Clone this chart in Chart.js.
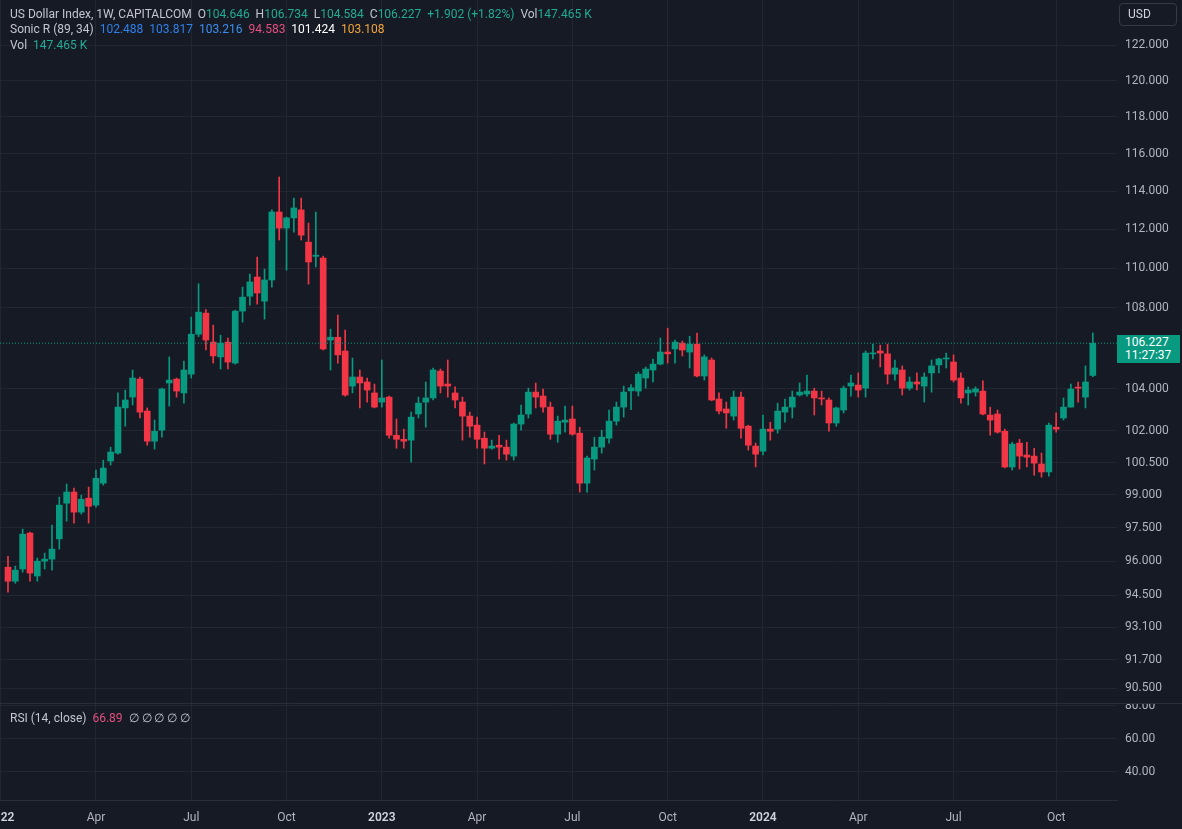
<!DOCTYPE html>
<html><head><meta charset="utf-8">
<script src="https://cdn.jsdelivr.net/npm/chart.js@4/dist/chart.umd.min.js"></script>
<style>
html,body{margin:0;padding:0;background:#161a25;}
#wrap{position:relative;width:1182px;height:829px;overflow:hidden;background:#161a25;font-family:Roboto,'Noto Sans',sans-serif;}
#c{position:absolute;left:0;top:0;}
.lg{position:absolute;left:10px;font-size:12px;color:#c3c6ce;white-space:pre;line-height:16px;}
.t{color:#22ab94}.b1{color:#2f80e8}.b2{color:#3b8ff0}.pk{color:#e2507e}.wh{color:#ffffff}.or{color:#f2a43a}.rd{color:#f23645}
#usd{position:absolute;left:1119px;top:3px;width:58px;height:23px;border:1px solid #363a45;border-radius:4px;color:#d1d4dc;font-size:12px;line-height:21px;box-sizing:border-box;padding-left:8px;}
#pl{position:absolute;left:1117px;width:63px;height:28px;background:#089981;color:#fff;font-size:12px;line-height:13px;box-sizing:border-box;padding:1px 0 0 8px;}
</style></head><body>
<div id="wrap">
<canvas id="c" width="1182" height="829"></canvas>
<div class="lg" style="top:6px">US Dollar Index, 1W, CAPITALCOM  O<span class="t">104.646</span>  H<span class="t">106.734</span>  L<span class="t">104.584</span>  C<span class="t">106.227</span>  <span class="t">+1.902 (+1.82%)</span>  Vol<span class="t">147.465 K</span></div>
<div class="lg" style="top:21px">Sonic R (89, 34)  <span class="b1">102.488</span>  <span class="b1">103.817</span>  <span class="b2">103.216</span>  <span class="pk">94.583</span>  <span class="wh">101.424</span>  <span class="or">103.108</span></div>
<div class="lg" style="top:37px">Vol  <span class="t">147.465 K</span></div>
<div class="lg" style="top:710px">RSI (14, close)  <span class="pk">66.89</span>  ∅ ∅ ∅ ∅ ∅</div>
<div id="usd">USD</div>
<div id="pl">106.227<br>11:27:37</div>
</div>
<script>
// weekly candles, index 0 = week of 10 Jan 2022
const opens = [95.73,95.11,95.65,97.26,95.34,96.00,96.09,97.00,98.62,99.13,98.21,98.85,98.53,99.54,100.57,100.94,103.08,103.60,104.47,102.93,101.50,102.02,104.28,104.47,103.80,104.71,106.67,107.72,106.28,105.55,106.28,105.25,107.82,108.57,109.54,108.32,109.39,112.90,112.06,112.59,113.01,111.33,110.60,110.51,106.38,106.52,105.84,104.13,104.57,104.33,103.80,103.36,103.60,101.78,101.59,101.55,102.79,103.36,103.56,104.86,104.23,103.80,103.36,102.69,102.26,101.64,101.17,101.31,101.22,100.80,102.31,102.79,103.84,103.65,103.12,101.83,102.40,102.55,101.88,99.54,100.66,101.22,101.64,102.45,103.12,103.90,103.89,104.52,104.91,105.20,105.79,105.94,106.23,105.79,106.18,104.62,105.40,103.51,103.03,102.69,103.60,102.21,101.27,101.03,102.07,102.07,102.88,103.12,103.70,103.75,103.89,103.56,103.46,102.36,102.98,104.13,104.18,104.03,105.70,105.84,105.70,104.71,104.91,104.03,104.33,104.13,104.77,105.16,105.45,105.30,104.52,103.80,103.84,103.89,102.74,102.79,101.97,100.29,101.41,100.85,100.80,100.43,100.06,102.16,102.60,103.12,104.08,103.60,104.646];
const highs = [96.22,95.78,97.44,97.30,96.14,96.36,97.62,98.90,99.50,99.31,98.99,99.36,100.15,100.61,101.22,103.80,103.94,104.91,104.57,103.08,102.50,104.03,105.55,104.52,105.35,107.52,109.20,107.90,107.12,106.62,106.48,107.87,109.03,109.69,110.56,109.94,113.01,114.75,112.64,113.63,113.63,112.32,112.90,110.61,106.92,107.62,106.87,105.50,104.91,104.52,104.23,105.40,103.65,102.55,102.07,102.88,103.60,104.33,105.01,104.96,105.40,104.09,103.60,102.88,102.64,101.93,101.55,101.78,101.55,102.36,103.22,104.03,104.28,103.99,103.36,102.69,103.17,103.17,102.16,100.80,101.69,102.02,102.98,103.36,104.13,104.20,104.81,105.06,105.45,106.48,106.97,106.38,106.33,106.57,106.72,105.65,105.50,103.80,103.36,103.89,103.84,102.26,101.41,102.74,102.40,103.31,103.51,103.89,104.28,104.67,104.03,103.89,103.56,103.12,104.13,104.67,104.77,105.84,106.18,106.13,106.18,105.40,105.11,104.57,104.77,104.77,105.40,105.50,105.74,105.65,104.77,104.09,104.09,104.38,103.12,102.98,102.07,101.45,101.59,101.45,101.17,100.94,102.36,102.84,103.56,104.23,104.33,105.11,106.734];
const lows = [94.63,95.02,95.51,95.11,95.11,95.65,95.60,96.54,97.80,97.71,98.12,97.71,98.44,99.45,100.38,100.89,102.21,103.22,102.60,101.31,101.13,101.69,103.17,103.60,103.31,104.52,106.55,105.89,105.25,104.96,104.96,105.20,107.27,108.12,108.17,107.42,109.03,111.44,109.89,111.85,111.44,109.18,110.05,105.89,104.91,105.25,103.65,103.80,103.08,103.36,103.08,103.12,101.64,101.17,101.17,100.52,102.60,102.16,103.46,103.80,103.60,103.08,101.55,101.69,101.17,100.43,101.12,100.66,100.61,100.61,102.02,102.60,103.08,102.88,101.59,101.45,101.93,101.78,99.13,99.13,100.15,100.94,101.41,102.26,102.64,103.00,103.65,104.03,104.33,105.16,105.25,105.25,105.60,105.01,104.57,104.42,103.42,102.79,102.11,102.50,101.64,101.08,100.29,100.85,101.55,101.88,102.40,102.60,103.65,103.65,102.74,103.22,101.97,102.21,102.84,103.65,103.60,103.60,105.45,105.06,104.23,104.42,103.70,103.94,103.94,103.36,103.84,104.77,105.01,104.33,103.31,103.22,103.65,102.75,101.78,101.88,100.25,100.15,100.20,100.29,99.91,99.82,99.87,101.93,102.50,103.12,103.36,103.08,104.584];
const closes = [95.11,95.60,97.21,95.47,96.00,96.09,96.54,98.53,99.13,98.21,98.80,98.48,99.77,100.24,100.99,103.12,103.46,104.52,102.88,101.50,101.97,103.99,104.42,103.89,104.91,106.67,107.77,106.38,105.60,106.23,105.30,107.82,108.52,109.29,108.73,109.39,112.90,112.06,112.59,113.11,111.69,110.31,110.66,105.94,106.52,105.65,103.70,104.57,104.28,103.94,103.12,103.56,101.78,101.59,101.50,102.64,103.31,103.56,104.91,104.13,104.13,103.46,102.69,102.21,101.59,101.17,101.27,101.22,100.89,102.31,102.74,103.84,103.60,103.12,101.83,102.45,102.50,101.83,99.54,100.71,101.22,101.69,102.45,103.12,103.84,104.05,104.71,104.96,105.20,105.79,105.70,106.28,105.89,106.18,104.62,105.55,103.46,102.93,102.84,103.60,102.11,101.31,100.89,102.07,101.97,102.93,103.12,103.60,103.84,103.89,103.56,103.51,102.36,103.08,104.03,104.28,103.94,105.74,105.74,105.74,104.71,105.01,104.03,104.33,104.23,104.57,105.11,105.45,105.50,104.42,103.56,103.94,103.99,102.79,102.50,101.93,100.29,101.36,100.80,100.75,100.47,100.06,102.26,102.07,103.12,103.99,104.03,104.33,106.227];

const xTickIdx = [-1, 12, 25, 38, 51, 64, 77, 90, 103, 116, 129, 143];
const xTickText = ['2022','Apr','Jul','Oct','2023','Apr','Jul','Oct','2024','Apr','Jul','Oct'];
const priceTicks = [90.5, 91.7, 93.1, 94.5, 96, 97.5, 99, 100.5, 102, 104, 108, 110, 112, 114, 116, 118, 120, 122];
const rsiTicks = [80, 60, 40];
const lastClose = 106.227;

const UP = '#089981', DOWN = '#f23645', GRID = '#222631', TXT = '#b2b5be', BG = '#161a25', SEP = '#2a2e39';
const X_MIN = -1.09, X_MAX = 151.3;
const Y_MAX = 124.58, Y_MIN = 89.88;

const isUp = i => closes[i] >= opens[i];
const colorFor = c => isUp(c.dataIndex) ? UP : DOWN;
const bodyData = opens.map((o, i) => ({x: i, y: [Math.min(o, closes[i]), Math.max(o, closes[i])]}));
const wickData = opens.map((o, i) => ({x: i, y: [lows[i], highs[i]]}));

const panePlugin = {
  id: 'panes',
  afterDraw(chart) {
    const c = chart.ctx, ys = chart.scales.y, ca = chart.chartArea;
    c.save();
    c.fillStyle = BG;
    c.fillRect(ca.right + 1, ys.bottom - 8, chart.width - ca.right, 8);
    c.strokeStyle = SEP; c.lineWidth = 1;
    c.beginPath(); c.moveTo(0, Math.round(ys.bottom) + 0.5); c.lineTo(chart.width, Math.round(ys.bottom) + 0.5); c.stroke();
    c.restore();
  }
};

const chart = new Chart(document.getElementById('c'), {
  type: 'bar',
  data: { datasets: [
    { type: 'line', data: [{x: X_MIN, y: lastClose}, {x: X_MAX, y: lastClose}], borderColor: UP, borderWidth: 1, borderDash: [1, 2], pointRadius: 0, yAxisID: 'y' },
    { data: bodyData, backgroundColor: colorFor, barThickness: 6, minBarLength: 1, grouped: false, yAxisID: 'y', borderWidth: 0 },
    { data: wickData, backgroundColor: colorFor, barThickness: 1, grouped: false, yAxisID: 'y', borderWidth: 0 }
  ]},
  options: {
    responsive: false, animation: false, maintainAspectRatio: false,
    layout: { padding: 0 },
    plugins: { legend: { display: false }, tooltip: { enabled: false } },
    scales: {
      x: {
        type: 'linear', min: X_MIN, max: X_MAX, offset: false,
        grid: { color: GRID, drawTicks: false, offset: false },
        border: { display: true, color: SEP },
        ticks: {
          padding: 11, autoSkip: false, maxRotation: 0,
          color: c => (xTickText[c.index] || '').length === 4 ? '#d1d4dc' : TXT,
          font: c => ({ family: 'Roboto', size: 12, weight: (xTickText[c.index] || '').length === 4 ? '600' : '400' }),
          callback: (v, i) => xTickText[i]
        },
        afterBuildTicks: s => { s.ticks = xTickIdx.map(v => ({ value: v })); },
        afterFit: s => { s.height = 29; s.paddingLeft = 0; s.paddingRight = 0; }
      },
      y: {
        type: 'logarithmic', position: 'right', stack: 'panes', stackWeight: 703,
        min: Y_MIN, max: Y_MAX,
        grid: { color: GRID, drawTicks: false },
        border: { display: false },
        ticks: { padding: 8, color: TXT, font: { family: 'Roboto', size: 12 }, callback: v => Number(v).toFixed(3) },
        afterBuildTicks: s => { s.ticks = priceTicks.map(v => ({ value: v })); },
        afterFit: s => { s.width = 65; s.paddingTop = 0; s.paddingBottom = 0; }
      },
      rsi: {
        type: 'linear', position: 'right', stack: 'panes', stackWeight: 97,
        min: 23, max: 81.8,
        grid: { color: GRID, drawTicks: false },
        border: { display: false },
        ticks: { padding: 8, color: TXT, font: { family: 'Roboto', size: 12 }, callback: v => Number(v).toFixed(2) },
        afterBuildTicks: s => { s.ticks = rsiTicks.map(v => ({ value: v })); },
        afterFit: s => { s.width = 65; s.paddingTop = 0; s.paddingBottom = 0; }
      }
    }
  },
  plugins: [panePlugin]
});

const py = chart.scales.y.getPixelForValue(lastClose);
document.getElementById('pl').style.top = Math.round(py - 8) + 'px';
</script>
</body></html>
